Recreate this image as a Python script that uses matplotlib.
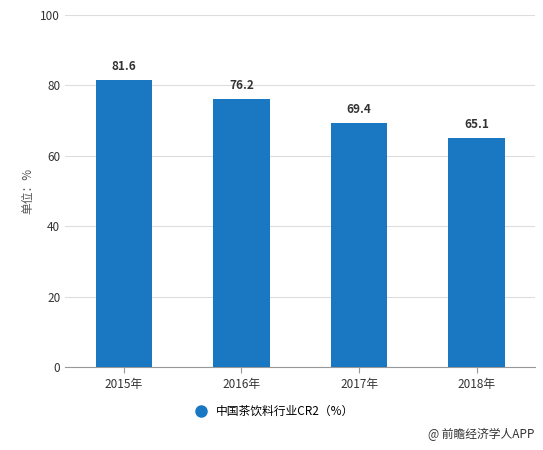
import matplotlib
matplotlib.use("Agg")
import matplotlib.pyplot as plt
from matplotlib.lines import Line2D

plt.rcParams['font.family'] = ['Noto Sans CJK SC', 'DejaVu Sans']

years = ["2015年", "2016年", "2017年", "2018年"]
values = [81.6, 76.2, 69.4, 65.1]
yticks = [0, 20, 40, 60, 80, 100]

fig = plt.figure(figsize=(5.43, 4.5), dpi=100)
ax = fig.add_axes([0.12, 0.184, 0.866, 0.783])
x = range(len(years))
ax.bar(x, values, width=0.48, color="#1a78c2", zorder=3)
for i, v in zip(x, values):
    ax.text(i, v + 2, f"{v}", ha="center", va="bottom", fontsize=8.5, fontweight="bold", color="#333333")
ax.set_ylim(0, 100)
ax.set_xlim(-0.5, 3.5)
ax.set_yticks(yticks)
ax.set_xticks(list(x))
ax.set_xticklabels(years)
ax.tick_params(axis="both", labelsize=8.5, colors="#333333", length=0)
ax.tick_params(axis="x", length=4, color="#999999")
ax.yaxis.grid(True, color="#dddddd", linewidth=0.8, zorder=0)
for s in ["top", "right", "left"]:
    ax.spines[s].set_visible(False)
ax.spines["bottom"].set_color("#999999")
ax.set_ylabel("单位：%", fontsize=8.5, color="#555555")

handle = Line2D([], [], marker="o", linestyle="none", color="#1a78c2", markersize=8)
fig.legend([handle], ["中国茶饮料行业CR2（%）"], loc="center", bbox_to_anchor=(0.5, 0.085),
           frameon=False, fontsize=8.5, handletextpad=0.3)
fig.text(0.985, 0.02, "@ 前瞻经济学人APP", ha="right", va="bottom", fontsize=8.5, color="#333333")
fig.savefig("out.png", dpi=100)
